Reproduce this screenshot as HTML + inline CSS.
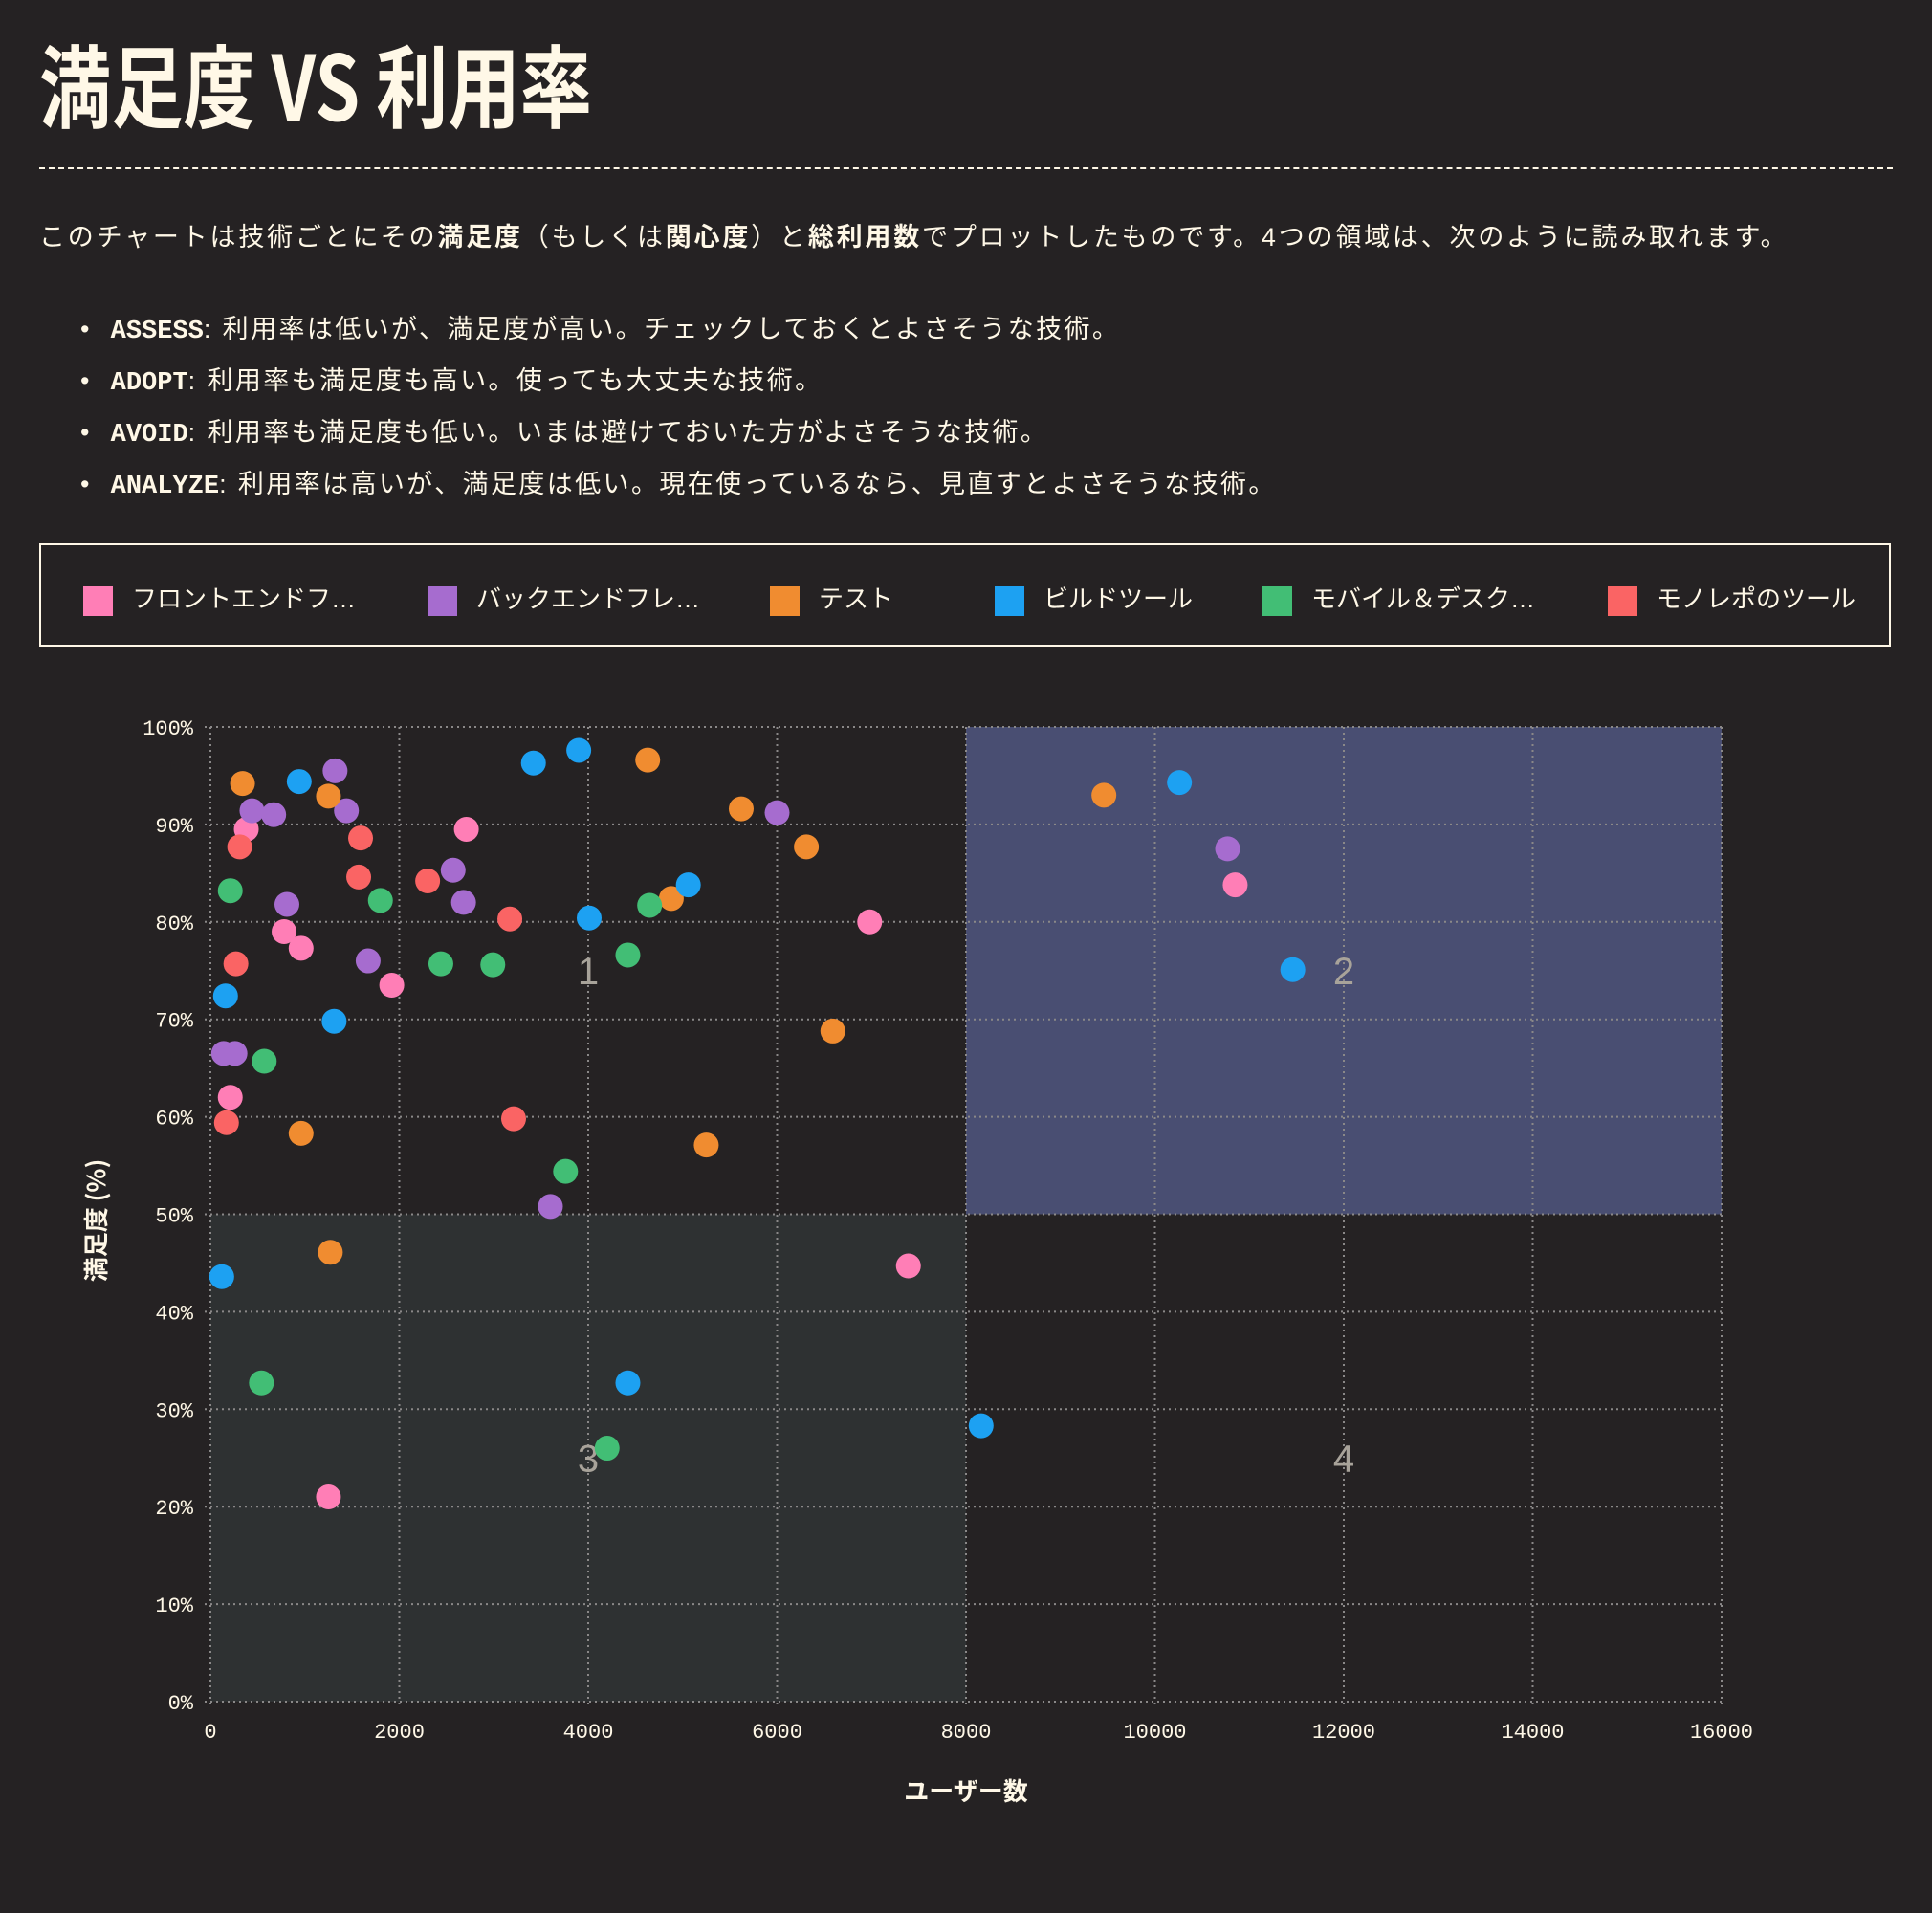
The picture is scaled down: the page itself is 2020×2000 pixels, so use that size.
<!DOCTYPE html>
<html><head><meta charset="utf-8">
<style>
body{margin:0;width:2020px;height:2000px;background:#252223;color:#fff8e7;font-family:"Liberation Sans","Noto Sans CJK JP",sans-serif;overflow:hidden;position:relative}
.abs{position:absolute;white-space:nowrap}
#title{left:41px;top:18px;font-size:94px;font-weight:bold;font-family:"Noto Sans CJK JP",sans-serif;transform:scaleX(0.8);transform-origin:left top;letter-spacing:0px}
#rule{left:41px;top:175px;width:1938px;border-top:2px dashed #fff8e7;height:0}
#desc{left:41px;top:226px;font-size:27px;letter-spacing:2.8px}
.bul{left:84px;font-size:27px;letter-spacing:2.4px}
.bul b{font-family:"Liberation Mono","Noto Sans CJK JP",monospace;letter-spacing:0}
#legend{left:41px;top:568px;width:1936px;height:108px;border:2px solid #fff8e7;box-sizing:border-box}
.li{position:absolute;top:36px;font-size:26px;white-space:nowrap}
.sw{display:inline-block;width:31px;height:31px;vertical-align:middle;margin-right:20px}
</style></head><body>
<div class="abs" id="title">満足度 VS 利用率</div>
<div class="abs" id="rule"></div>
<div class="abs" id="desc">このチャートは技術ごとにその<b>満足度</b>（もしくは<b>関心度</b>）と<b>総利用数</b>でプロットしたものです。4つの領域は、次のように読み取れます。</div>
<div class="abs bul" style="top:322px">•&nbsp; <b>ASSESS</b>: 利用率は低いが、満足度が高い。チェックしておくとよさそうな技術。</div>
<div class="abs bul" style="top:376px">•&nbsp; <b>ADOPT</b>: 利用率も満足度も高い。使っても大丈夫な技術。</div>
<div class="abs bul" style="top:430px">•&nbsp; <b>AVOID</b>: 利用率も満足度も低い。いまは避けておいた方がよさそうな技術。</div>
<div class="abs bul" style="top:484px">•&nbsp; <b>ANALYZE</b>: 利用率は高いが、満足度は低い。現在使っているなら、見直すとよさそうな技術。</div>
<div class="abs" id="legend">
<div class="li" style="left:44px"><span class="sw" style="background:#ff7eb6"></span>フロントエンドフ…</div>
<div class="li" style="left:404px"><span class="sw" style="background:#a66ccf"></span>バックエンドフレ…</div>
<div class="li" style="left:762px"><span class="sw" style="background:#f08c30"></span>テスト</div>
<div class="li" style="left:997px"><span class="sw" style="background:#1da1f2"></span>ビルドツール</div>
<div class="li" style="left:1277px"><span class="sw" style="background:#42be75"></span>モバイル＆デスク…</div>
<div class="li" style="left:1638px"><span class="sw" style="background:#fa6464"></span>モノレポのツール</div>
</div>
<svg id="chart" width="2020" height="2000" style="position:absolute;left:0;top:0"></svg>
<script>
const xTicks=[0,2000,4000,6000,8000,10000,12000,14000,16000];
const yTicks=[0,10,20,30,40,50,60,70,80,90,100];
const seriesNames=["frontend","backend","test","build","mobile","monorepo"];
const seriesColors=["#ff7eb6","#a66ccf","#f08c30","#1da1f2","#42be75","#fa6464"];
const frontendX=[380,780,960,1920,2710,210,1250,6980,7390,10850];
const frontendY=[89.5,79,77.3,73.5,89.5,62,21,80,44.7,83.8];
const backendX=[1320,440,670,1440,810,1670,2570,2680,140,260,3600,6000,10770];
const backendY=[95.5,91.4,91,91.4,81.8,76,85.3,82,66.5,66.5,50.8,91.2,87.5];
const testX=[340,1250,960,1270,4630,5620,6310,4880,6590,5250,9460];
const testY=[94.2,92.9,58.3,46.1,96.6,91.6,87.7,82.4,68.8,57.1,93];
const buildX=[940,3420,3900,4010,5060,160,1310,120,4420,8160,10260,11460];
const buildY=[94.4,96.3,97.6,80.4,83.8,72.4,69.8,43.6,32.7,28.3,94.3,75.1];
const mobileX=[210,1800,2440,2990,4420,4650,570,3760,540,4200];
const mobileY=[83.2,82.2,75.7,75.6,76.6,81.7,65.7,54.4,32.7,26.0];
const monorepoX=[310,270,170,1590,1570,2300,3170,3210];
const monorepoY=[87.7,75.7,59.4,88.6,84.6,84.2,80.3,59.8];
const quadLabels=["1","2","3","4"];
const quadX=[4000,12000,4000,12000];
const quadY=[75,75,25,25];

const NS="http://www.w3.org/2000/svg";
const svg=document.getElementById('chart');
const X0=220,X1=1800,Y0=1779,Y1=760;
const sx=v=>X0+(v-0)/(16000)*(X1-X0);
const sy=v=>Y0-(v/100)*(Y0-Y1);
function mk(tag,attrs){const e=document.createElementNS(NS,tag);for(const k in attrs)e.setAttribute(k,attrs[k]);svg.appendChild(e);return e;}
let q=mk('rect',{x:sx(8000),y:sy(100),width:sx(16000)-sx(8000),height:sy(50)-sy(100),fill:'#494e72'});


q=mk('rect',{x:sx(0),y:sy(50),width:sx(8000)-sx(0),height:sy(0)-sy(50),fill:'#2e3132'});


xTicks.forEach(t=>{
 const l=mk('line',{x1:sx(t),x2:sx(t),y1:Y1,y2:Y0+6,stroke:'#8a8888','stroke-width':2,'stroke-dasharray':'2 4'});
 
 
 const tx=mk('text',{x:sx(t),y:Y0+38,'text-anchor':'middle',fill:'#fff8e7','font-size':22,'font-family':'Liberation Mono, monospace'});
 tx.textContent=t;
 
 
});
yTicks.forEach(t=>{
 const l=mk('line',{x1:X0-6,x2:X1,y1:sy(t),y2:sy(t),stroke:'#8a8888','stroke-width':2,'stroke-dasharray':'2 4'});
 
 
 const tx=mk('text',{x:X0-18,y:sy(t)+8,'text-anchor':'end',fill:'#fff8e7','font-size':22,'font-family':'Liberation Mono, monospace'});
 tx.textContent=t+'%';
 
 
});
quadLabels.forEach((s,i)=>{
 const tx=mk('text',{x:sx(quadX[i]),y:sy(quadY[i])+14,'text-anchor':'middle',fill:'#a8a39a','font-size':40,'font-family':'Liberation Sans, sans-serif'});
 tx.textContent=s;
 
 
});
const allX=[frontendX,backendX,testX,buildX,mobileX,monorepoX];
const allY=[frontendY,backendY,testY,buildY,mobileY,monorepoY];
allX.forEach((xs,si)=>{
 xs.forEach((v,i)=>{
  const c=mk('circle',{cx:sx(v),cy:sy(allY[si][i]),r:13,fill:seriesColors[si]});
  
  
 });
});
let a=mk('text',{x:1010,y:1882,'text-anchor':'middle',fill:'#fff8e7','font-size':26,'font-weight':'bold','font-family':'Noto Sans CJK JP, sans-serif'});
a.textContent='ユーザー数';


a=mk('text',{x:0,y:0,'text-anchor':'middle',fill:'#fff8e7','font-size':26,'font-weight':'bold','font-family':'Noto Sans CJK JP, sans-serif',transform:'translate(110,1276) rotate(-90)'});
a.textContent='満足度 (%)';


</script>
</body></html>
